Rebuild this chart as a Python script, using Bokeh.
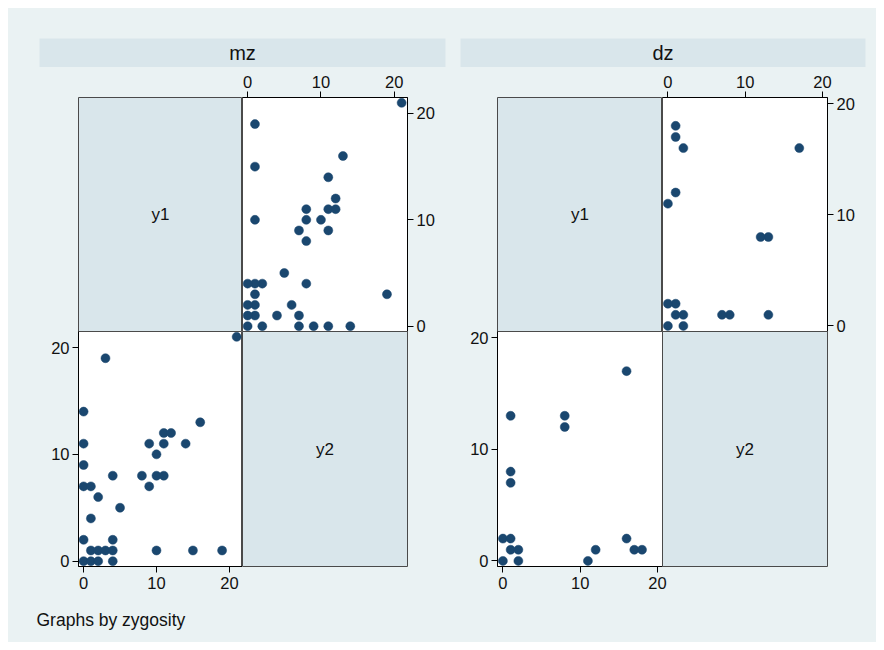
from bokeh.plotting import figure
from bokeh.layouts import row, column
from bokeh.models import Range1d, FixedTicker, ColumnDataSource
from bokeh.core.properties import value
from bokeh.embed import file_html
from bokeh.resources import INLINE

# ---------------- data ----------------
groups = ["mz", "dz"]
var_labels = ["y1", "y2"]
tick_values = [0, 10, 20]
caption_text = "Graphs by zygosity"

mz_y1 = [21, 3, 0, 0, 0, 0, 1, 2, 1, 4, 5, 0, 4, 1, 2, 3, 4, 0, 1, 2, 4,
         8, 9, 9, 10, 10, 11, 11, 11, 12, 14, 16, 10, 15, 19]
mz_y2 = [21, 19, 14, 11, 9, 7, 7, 6, 4, 8, 5, 2, 2, 1, 1, 1, 1, 0, 0, 0, 0,
         8, 11, 7, 10, 8, 8, 11, 12, 12, 11, 13, 1, 1, 1]

dz_y1 = [1, 1, 1, 0, 1, 1, 2, 0, 2, 8, 8, 11, 12, 16, 16, 17, 18]
dz_y2 = [13, 8, 7, 2, 2, 1, 1, 0, 0, 13, 12, 0, 1, 17, 2, 1, 1]

# ---------------- style ----------------
BG = "#EAF2F3"
STRIP = "#D9E6EB"
MARK = "#1A476F"
TXT = "#111111"
FONT = "Liberation Sans"
OUTLINE = "#4a4a4a"

mz_xr, mz_yr = (-0.7, 21.8), (-0.5, 21.5)
dz_xr, dz_yr = (-0.7, 20.65), (-0.5, 20.55)


def base(width, height, l, r, t, b, xr=(0, 1), yr=(0, 1), axes=False,
         xloc="below", yloc="left", fill="white", outline=OUTLINE, **extra):
    kw = dict(width=width, height=height,
              x_range=Range1d(*xr), y_range=Range1d(*yr),
              toolbar_location=None, output_backend="svg",
              min_border_left=l, min_border_right=r,
              min_border_top=t, min_border_bottom=b)
    kw.update(extra)
    if axes:
        kw.update(x_axis_location=xloc, y_axis_location=yloc)
    else:
        kw.update(x_axis_type=None, y_axis_type=None)
    p = figure(**kw)
    p.background_fill_color = fill
    p.border_fill_color = BG
    p.border_fill_alpha = 0
    p.outline_line_color = outline
    p.outline_line_width = 1
    p.grid.visible = False
    if axes:
        for ax in p.axis:
            ax.ticker = FixedTicker(ticks=tick_values)
            ax.major_tick_out = 6
            ax.major_tick_in = 0
            ax.minor_tick_line_color = None
            ax.axis_line_color = "#000000"
            ax.major_tick_line_color = "#000000"
            ax.major_label_text_font = FONT
            ax.major_label_text_font_size = "16.5px"
            ax.major_label_text_color = TXT
        p.xaxis.major_label_standoff = 4
        p.yaxis.major_label_standoff = 3
    return p


def scatter_cell(p, xs, ys):
    src = ColumnDataSource(dict(x=xs, y=ys))
    p.scatter("x", "y", source=src, size=9, fill_color=MARK,
              line_color=MARK, line_width=0.5)
    return p


def diag_cell(width, height, l, r, t, b, label, **extra):
    p = base(width, height, l, r, t, b, fill=STRIP, **extra)
    p.text(x=[0.5], y=[0.5], text=[label], text_align="center",
           text_baseline="middle", text_font=value(FONT),
           text_font_size="17px", text_color=TXT)
    return p


def strip(width, height, l, r, t, b, label):
    p = base(width, height, l, r, t, b, fill=STRIP, outline=None)
    p.text(x=[0.5], y=[0.5], text=[label], text_align="center",
           text_baseline="middle", text_font=value(FONT),
           text_font_size="20px", text_color=TXT)
    return p


# header strips (canvas y 0..59)
s_mz = strip(444, 59, 31, 7, 30, 0, groups[0])
s_dz = strip(424, 59, 8, 11, 30, 0, groups[1])

# row B (upper cells): top border 36 (overlaps header by 6), bottom border 8
b1 = diag_cell(234, 278, 70, 0, 36, 8, var_labels[0])
b2 = base(210, 278, 0, 45, 36, 8, mz_xr, mz_yr, axes=True,
          xloc="above", yloc="right")
scatter_cell(b2, mz_y2, mz_y1)
b3 = diag_cell(210, 278, 45, 0, 36, 8, var_labels[0])
b4 = base(214, 278, 0, 49, 36, 8, dz_xr, dz_yr, axes=True,
          xloc="above", yloc="right")
scatter_cell(b4, dz_y2, dz_y1)

# row C (lower cells): transparent top border 8, overlaps row B by 16
c1 = base(234, 277, 70, 0, 8, 34, mz_xr, mz_yr, axes=True,
          xloc="below", yloc="left")
scatter_cell(c1, mz_y1, mz_y2)
c2 = diag_cell(210, 277, 0, 45, 8, 34, var_labels[1])
c3 = base(218, 277, 45, 8, 8, 34, dz_xr, dz_yr, axes=True,
          xloc="below", yloc="left")
scatter_cell(c3, dz_y1, dz_y2)
c4 = diag_cell(214, 277, 0, 49, 8, 34, var_labels[1], margin=(0, 0, 0, -8))

# caption
cap = base(868, 42, 0, 0, 0, 0, (0, 868), (0, 42), fill=BG, outline=None)
cap.background_fill_alpha = 0
cap.text(x=[28], y=[23], text=[caption_text], text_align="left",
         text_baseline="middle", text_font=value(FONT),
         text_font_size="17.5px", text_color=TXT)

layout = column(
    row(s_mz, s_dz),
    row(b1, b2, b3, b4, margin=(-6, 0, 0, 0)),
    row(c1, c2, c3, c4, margin=(-16, 0, 0, 0)),
    cap,
    margin=(8, 0, 0, 8),
    styles={"background-color": BG},
)

open("out.html", "w").write(file_html(layout, INLINE))
